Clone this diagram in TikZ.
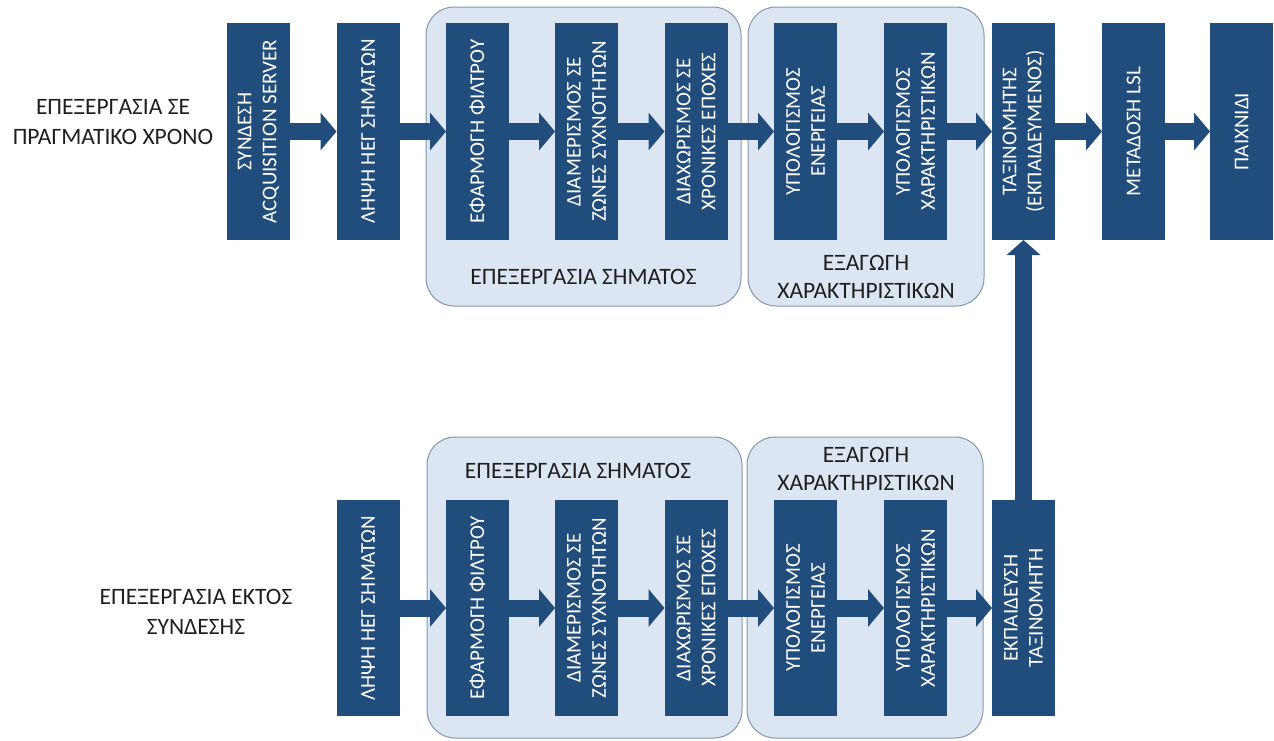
\documentclass[tikz,border=0pt]{standalone}
\usepackage{fontspec}
\setmainfont{Carlito}
\usetikzlibrary{arrows.meta}
\definecolor{boxblue}{HTML}{214D7D}
\definecolor{grpfill}{HTML}{DCE6F2}
\definecolor{grpline}{HTML}{8497AE}
\definecolor{txt}{HTML}{1F1F1F}
\tikzset{
  stage/.style={fill=boxblue, draw=none, minimum width=63pt, minimum height=217pt, inner sep=0pt, outer sep=0pt},
  stagetext/.style={rotate=90, text=white, align=center, font=\fontsize{21}{25}\selectfont, inner sep=0pt},
  grp/.style={fill=grpfill, draw=grpline, line width=1pt, rounded corners=28pt, inner sep=0pt, outer sep=0pt},
  grplabel/.style={text=txt, align=center, font=\fontsize{23.5}{28}\selectfont, inner sep=0pt},
  sidelabel/.style={text=txt, align=center, font=\fontsize{23.5}{30}\selectfont, inner sep=0pt},
  flow/.style={draw=boxblue, line width=17pt, -{Triangle[width=37pt,length=16pt]}},
  upflow/.style={draw=boxblue, line width=17pt, -{Triangle[width=33pt,length=15pt]}},
}
\begin{document}
\begin{tikzpicture}[x=1pt,y=-1pt]
\useasboundingbox (0,0) rectangle (1274,740);
% groups
\node[grp, minimum width=315pt, minimum height=299pt] (g1) at (583.5,156.5) {};
\node[grp, minimum width=236pt, minimum height=299pt] (g2) at (866,156.5) {};
\node[grp, minimum width=315pt, minimum height=301pt] (g3) at (584.5,587.5) {};
\node[grp, minimum width=236pt, minimum height=301pt] (g4) at (865,587.5) {};
% group labels
\node[grplabel] (g1l) at (583.5,277) {ΕΠΕΞΕΡΓΑΣΙΑ ΣΗΜΑΤΟΣ};
\node[grplabel] (g2l) at (866,277) {ΕΞΑΓΩΓΗ\\ΧΑΡΑΚΤΗΡΙΣΤΙΚΩΝ};
\node[grplabel] (g3l) at (578,471) {ΕΠΕΞΕΡΓΑΣΙΑ ΣΗΜΑΤΟΣ};
\node[grplabel] (g4l) at (866,469) {ΕΞΑΓΩΓΗ\\ΧΑΡΑΚΤΗΡΙΣΤΙΚΩΝ};
% side labels
\node[sidelabel] (lt) at (113,122) {ΕΠΕΞΕΡΓΑΣΙΑ ΣΕ\\ΠΡΑΓΜΑΤΙΚΟ ΧΡΟΝΟ};
\node[sidelabel] (lb) at (196,612) {ΕΠΕΞΕΡΓΑΣΙΑ ΕΚΤΟΣ\\ΣΥΝΔΕΣΗΣ};
% top row
\node[stage] (t1) at (258.5,131.5) {};
\node[stage] (t2) at (368,131.5) {};
\node[stage] (t3) at (477.5,131.5) {};
\node[stage] (t4) at (586.5,131.5) {};
\node[stage] (t5) at (696,131.5) {};
\node[stage] (t6) at (805.5,131.5) {};
\node[stage] (t7) at (915.5,131.5) {};
\node[stage] (t8) at (1023.5,131.5) {};
\node[stage] (t9) at (1133.5,131.5) {};
\node[stage] (t10) at (1241.5,131.5) {};
\node[stagetext] (t1t) at (t1) {ΣΥΝΔΕΣΗ\\ACQUISITION SERVER};
\node[stagetext] (t2t) at (t2) {ΛΗΨΗ ΗΕΓ ΣΗΜΑΤΩΝ};
\node[stagetext] (t3t) at (t3) {ΕΦΑΡΜΟΓΗ ΦΙΛΤΡΟΥ};
\node[stagetext] (t4t) at (t4) {ΔΙΑΜΕΡΙΣΜΟΣ ΣΕ\\ΖΩΝΕΣ ΣΥΧΝΟΤΗΤΩΝ};
\node[stagetext] (t5t) at (t5) {ΔΙΑΧΩΡΙΣΜΟΣ ΣΕ\\ΧΡΟΝΙΚΕΣ ΕΠΟΧΕΣ};
\node[stagetext] (t6t) at (t6) {ΥΠΟΛΟΓΙΣΜΟΣ\\ΕΝΕΡΓΕΙΑΣ};
\node[stagetext] (t7t) at (t7) {ΥΠΟΛΟΓΙΣΜΟΣ\\ΧΑΡΑΚΤΗΡΙΣΤΙΚΩΝ};
\node[stagetext] (t8t) at (t8) {ΤΑΞΙΝΟΜΗΤΗΣ\\(ΕΚΠΑΙΔΕΥΜΕΝΟΣ)};
\node[stagetext] (t9t) at (t9) {ΜΕΤΑΔΟΣΗ LSL};
\node[stagetext] (t10t) at (t10) {ΠΑΙΧΝΙΔΙ};
% bottom row
\node[stage, minimum height=216pt] (b2) at (368,608) {};
\node[stage, minimum height=216pt] (b3) at (477.5,608) {};
\node[stage, minimum height=216pt] (b4) at (586.5,608) {};
\node[stage, minimum height=216pt] (b5) at (696,608) {};
\node[stage, minimum height=216pt] (b6) at (805.5,608) {};
\node[stage, minimum height=216pt] (b7) at (915.5,608) {};
\node[stage, minimum height=216pt] (b8) at (1023.5,608) {};
\node[stagetext] (b2t) at (b2) {ΛΗΨΗ ΗΕΓ ΣΗΜΑΤΩΝ};
\node[stagetext] (b3t) at (b3) {ΕΦΑΡΜΟΓΗ ΦΙΛΤΡΟΥ};
\node[stagetext] (b4t) at (b4) {ΔΙΑΜΕΡΙΣΜΟΣ ΣΕ\\ΖΩΝΕΣ ΣΥΧΝΟΤΗΤΩΝ};
\node[stagetext] (b5t) at (b5) {ΔΙΑΧΩΡΙΣΜΟΣ ΣΕ\\ΧΡΟΝΙΚΕΣ ΕΠΟΧΕΣ};
\node[stagetext] (b6t) at (b6) {ΥΠΟΛΟΓΙΣΜΟΣ\\ΕΝΕΡΓΕΙΑΣ};
\node[stagetext] (b7t) at (b7) {ΥΠΟΛΟΓΙΣΜΟΣ\\ΧΑΡΑΚΤΗΡΙΣΤΙΚΩΝ};
\node[stagetext] (b8t) at (b8) {ΕΚΠΑΙΔΕΥΣΗ\\ΤΑΞΙΝΟΜΗΤΗ};
% arrows top
\draw[flow] (t1.east) -- (t2.west);
\draw[flow] (t2.east) -- (t3.west);
\draw[flow] (t3.east) -- (t4.west);
\draw[flow] (t4.east) -- (t5.west);
\draw[flow] (t5.east) -- (t6.west);
\draw[flow] (t6.east) -- (t7.west);
\draw[flow] (t7.east) -- (t8.west);
\draw[flow] (t8.east) -- (t9.west);
\draw[flow] (t9.east) -- (t10.west);
% arrows bottom
\draw[flow] (b2.east) -- (b3.west);
\draw[flow] (b3.east) -- (b4.west);
\draw[flow] (b4.east) -- (b5.west);
\draw[flow] (b5.east) -- (b6.west);
\draw[flow] (b6.east) -- (b7.west);
\draw[flow] (b7.east) -- (b8.west);
% vertical
\draw[upflow] (b8.north) -- (t8.south);
\end{tikzpicture}
\end{document}
